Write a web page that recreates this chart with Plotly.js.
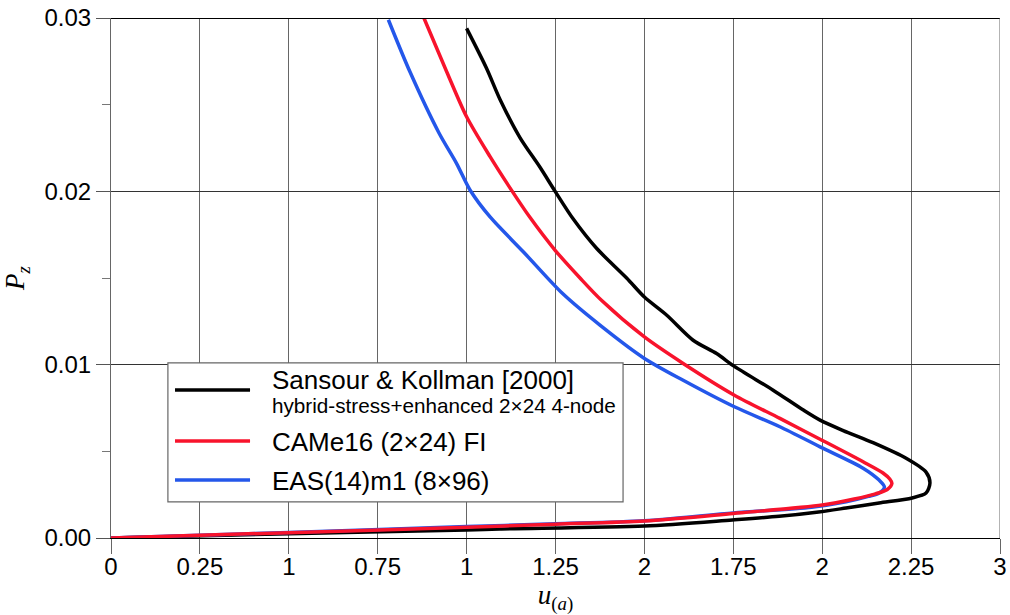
<!DOCTYPE html>
<html>
<head>
<meta charset="utf-8">
<script src="https://cdn.plot.ly/plotly-3.0.1.min.js"></script>
<style>html,body{margin:0;padding:0;background:#fff}#chart{width:1010px;height:615px}</style>
</head>
<body>
<div id="chart"></div>
<script>
// Sansour & Kollman [2000] (black)
const sk_u = [0, 0.5, 1.0, 1.093, 1.5, 1.747, 1.879, 1.99, 2.067, 2.16, 2.253, 2.292, 2.303, 2.292, 2.236, 2.143, 2.059, 1.994, 1.947, 1.862, 1.753, 1.703, 1.637, 1.563, 1.5, 1.45, 1.366, 1.30, 1.249, 1.206, 1.15, 1.094, 1.056, 1.0];
const sk_p = [0, 0.00025, 0.00046, 0.00052, 0.00069, 0.00104, 0.00125, 0.0015, 0.00173, 0.00202, 0.00231, 0.00259, 0.00317, 0.0038, 0.0046, 0.0055, 0.0062, 0.0068, 0.00738, 0.00853, 0.0099, 0.01064, 0.01141, 0.01285, 0.0139, 0.0150, 0.0167, 0.0184, 0.0200, 0.0214, 0.0231, 0.0253, 0.0271, 0.0294];
// CAMe16 (2x24) FI (red)
const came_u = [0, 0.5, 1.0, 1.25, 1.5, 1.75, 2.0, 2.09, 2.15, 2.183, 2.196, 2.19, 2.171, 2.115, 1.994, 1.881, 1.753, 1.609, 1.5, 1.38, 1.319, 1.249, 1.178, 1.122, 1.066, 1.0, 0.944, 0.88];
const came_p = [0, 0.00031, 0.00062, 0.0008, 0.00098, 0.00142, 0.0019, 0.00225, 0.00255, 0.0028, 0.00315, 0.0034, 0.00375, 0.0044, 0.0057, 0.0069, 0.00824, 0.01007, 0.0116, 0.0137, 0.0150, 0.0166, 0.0185, 0.0202, 0.0220, 0.0243, 0.0269, 0.0300];
// EAS(14)m1 (8x96) (blue)
const eas_u = [0, 0.5, 1.0, 1.25, 1.5, 1.75, 1.97, 2.067, 2.13, 2.16, 2.175, 2.16, 2.115, 1.994, 1.881, 1.753, 1.609, 1.5, 1.375, 1.27, 1.16, 1.066, 1.01, 0.972, 0.922, 0.841, 0.78];
const eas_p = [0, 0.00032, 0.00066, 0.00082, 0.001, 0.00145, 0.00178, 0.00209, 0.0024, 0.0026, 0.00294, 0.00334, 0.00403, 0.00526, 0.00642, 0.00757, 0.0091, 0.01036, 0.01228, 0.0141, 0.0165, 0.01852, 0.02006, 0.0216, 0.02338, 0.02688, 0.0299];

const xTickVals = [0, 0.25, 0.5, 0.75, 1.0, 1.25, 1.5, 1.75, 2.0, 2.25, 2.5];
const xTickText = ["0", "0.25", "1", "0.75", "1", "1.25", "2", "1.75", "2", "2.25", "3"];
const yTickVals = [0, 0.01, 0.02, 0.03];
const yTickText = ["0.00", "0.01", "0.02", "0.03"];

const names = ["Sansour & Kollman [2000]", "hybrid-stress+enhanced 2×24 4-node", "CAMe16 (2×24) FI", "EAS(14)m1 (8×96)"];
const colors = {black: "#000000", red: "#f8132c", blue: "#2457ea"};

const FONT = "Liberation Sans, Arial, sans-serif";
const SERIF = "Liberation Serif, Times New Roman, serif";
const LW = 3.5;

const traces = [
  {x: sk_u, y: sk_p, mode: "lines", line: {color: colors.black, width: LW, shape: "spline", smoothing: 0.8}, name: names[0]},
  {x: eas_u, y: eas_p, mode: "lines", line: {color: colors.blue, width: LW, shape: "spline", smoothing: 0.8}, name: names[3]},
  {x: came_u, y: came_p, mode: "lines", line: {color: colors.red, width: LW, shape: "spline", smoothing: 0.8}, name: names[2]}
];

const lx0 = 0.16, lx1 = 1.44, ly0 = 0.00208, ly1 = 0.0101;
const sx0 = 0.18, sx1 = 0.391, tx = 0.447;

const layout = {
  width: 1010, height: 615,
  margin: {l: 111, r: 10, t: 18, b: 77},
  paper_bgcolor: "#fff", plot_bgcolor: "#fff",
  showlegend: false,
  font: {family: FONT, color: "#000"},
  xaxis: {
    range: [0, 2.5], tickmode: "array", tickvals: xTickVals, ticktext: xTickText,
    ticks: "outside", ticklen: 15, tickcolor: "#666", tickwidth: 1,
    ticklabelstandoff: -8,
    showgrid: true, gridcolor: "#666", gridwidth: 1,
    showline: true, linecolor: "#000", linewidth: 1.2,
    zeroline: false, tickfont: {size: 24, family: FONT, color: "#000"},
    title: {text: "<i>u</i><sub>(<i>a</i>)</sub>", font: {family: SERIF, size: 27, color: "#000"}, standoff: 2},
    automargin: false
  },
  yaxis: {
    range: [0, 0.03], tickmode: "array", tickvals: yTickVals, ticktext: yTickText,
    ticks: "outside", ticklen: 14, tickcolor: "#555", tickwidth: 1,
    minor: {dtick: 0.005, ticks: "outside", ticklen: 8, tickcolor: "#777", showgrid: false},
    showgrid: true, gridcolor: "#333", gridwidth: 1,
    showline: true, linecolor: "#666", linewidth: 1,
    zeroline: false, tickfont: {size: 24, family: FONT, color: "#000"},
    title: {text: "<i>P</i><sub><i>z</i></sub>", font: {family: SERIF, size: 27, color: "#000"}, standoff: 12},
    automargin: false
  },
  shapes: [
    {type: "line", xref: "x", yref: "y", x0: 0, x1: 2.5, y0: 0.03, y1: 0.03, line: {color: "#000", width: 2.2}},
    {type: "line", xref: "x", yref: "y", x0: 2.5, x1: 2.5, y0: 0, y1: 0.03, line: {color: "#666", width: 1}},
    {type: "rect", xref: "x", yref: "y", x0: lx0, x1: lx1, y0: ly0, y1: ly1, line: {color: "#666", width: 1.2}, fillcolor: "#fff", layer: "above"},
    {type: "line", xref: "x", yref: "y", x0: sx0, x1: sx1, y0: 0.00854, y1: 0.00854, line: {color: colors.black, width: LW}},
    {type: "line", xref: "x", yref: "y", x0: sx0, x1: sx1, y0: 0.0056, y1: 0.0056, line: {color: colors.red, width: LW}},
    {type: "line", xref: "x", yref: "y", x0: sx0, x1: sx1, y0: 0.00335, y1: 0.00335, line: {color: colors.blue, width: LW}}
  ],
  annotations: [
    {xref: "x", yref: "y", x: tx, y: 0.00912, text: names[0], showarrow: false, xanchor: "left", yanchor: "middle", font: {size: 26, family: FONT, color: "#000"}},
    {xref: "x", yref: "y", x: tx, y: 0.00763, text: names[1], showarrow: false, xanchor: "left", yanchor: "middle", font: {size: 20.7, family: FONT, color: "#000"}},
    {xref: "x", yref: "y", x: tx, y: 0.00554, text: names[2], showarrow: false, xanchor: "left", yanchor: "middle", font: {size: 26, family: FONT, color: "#000"}},
    {xref: "x", yref: "y", x: tx, y: 0.00329, text: names[3], showarrow: false, xanchor: "left", yanchor: "middle", font: {size: 26, family: FONT, color: "#000"}}
  ]
};

Plotly.newPlot("chart", traces, layout, {displayModeBar: false, staticPlot: true});
</script>
</body>
</html>
